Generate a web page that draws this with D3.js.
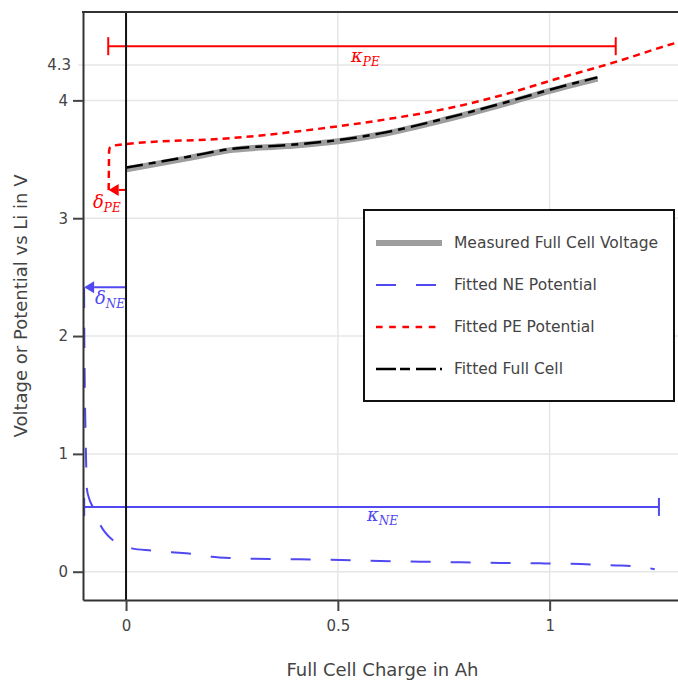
<!DOCTYPE html>
<html>
<head>
<meta charset="utf-8">
<script src="https://cdn.jsdelivr.net/npm/d3@7"></script>
<style>
  body { margin: 0; background: #fff; }
  svg { display: block; font-family: "DejaVu Sans", Verdana, sans-serif; }
</style>
</head>
<body>
<div id="chart"></div>
<script>
// ticks
const xTicks = [0, 0.5, 1];
const yTicks = [0, 1, 2, 3, 4];
const yMarkTick = 4.3;

// measured full cell voltage (Ah, V)
const measuredQ = [0, 0.144, 0.252, 0.38, 0.505, 0.6, 0.757, 0.913, 1.0, 1.113];
const measuredV = [3.415, 3.508, 3.58, 3.612, 3.655, 3.71, 3.84, 3.99, 4.08, 4.185];

// fitted full cell
const fittedQ = [0, 0.144, 0.252, 0.38, 0.505, 0.6, 0.757, 0.913, 1.0, 1.113];
const fittedV = [3.43, 3.52, 3.59, 3.62, 3.665, 3.72, 3.85, 4.0, 4.09, 4.195];

// fitted PE potential
const peQ = [-0.041, -0.0405, -0.040, -0.038, -0.033, 0, 0.25, 0.5, 0.65, 0.757, 0.913, 1.0, 1.15, 1.30, 1.32];
const peV = [3.24, 3.42, 3.57, 3.60, 3.612, 3.63, 3.68, 3.78, 3.86, 3.93, 4.07, 4.165, 4.32, 4.49, 4.51];

// fitted NE potential
const neQ = [-0.099, -0.0985, -0.0975, -0.096, -0.094, -0.0927, -0.087, -0.0785, -0.0597, -0.030, 0.0134, 0.059, 0.108, 0.153, 0.202, 0.245, 0.30, 0.41, 0.507, 0.60, 0.696, 0.79, 0.884, 0.979, 1.073, 1.167, 1.21, 1.248];
const neV = [2.41, 2.0, 1.6, 1.25, 0.9, 0.71, 0.62, 0.55, 0.39, 0.264, 0.198, 0.18, 0.165, 0.153, 0.127, 0.116, 0.11, 0.105, 0.10, 0.09, 0.085, 0.08, 0.074, 0.071, 0.065, 0.052, 0.045, 0.02];

// annotations: kappa spans and delta shifts
const kappaPE = { from: -0.042, to: 1.156, v: 4.46 };
const kappaNE = { from: -0.0988, to: 1.258, v: 0.55 };
const deltaPE = { from: 0, to: -0.041, v: 3.24 };
const deltaNE = { from: 0, to: -0.099, v: 2.414 };

const red = "#ff0000";
const blue = "#5048f0";

const width = 678, height = 680;
const marginLeft = 83, plotRight = 678, marginTop = 12, plotBottom = 600;

const x = d3.scaleLinear().domain([-0.1016, 1.303]).range([marginLeft, plotRight]);
const y = d3.scaleLinear().domain([-0.24, 4.75]).range([plotBottom, marginTop]);

const svg = d3.select("#chart").append("svg")
    .attr("width", width)
    .attr("height", height)
    .attr("viewBox", [0, 0, width, height]);

svg.append("defs").append("clipPath").attr("id", "clip")
    .append("rect")
    .attr("x", marginLeft).attr("y", marginTop)
    .attr("width", plotRight - marginLeft).attr("height", plotBottom - marginTop);

// grid
const grid = svg.append("g").attr("stroke", "#e6e6e6").attr("stroke-width", 1.5);
grid.selectAll(".h").data(yTicks).join("line").attr("class", "h")
    .attr("x1", marginLeft).attr("x2", plotRight)
    .attr("y1", d => y(d)).attr("y2", d => y(d));
grid.selectAll(".v").data(xTicks.filter(d => d !== 0)).join("line").attr("class", "v")
    .attr("x1", d => x(d)).attr("x2", d => x(d))
    .attr("y1", marginTop).attr("y2", plotBottom);
grid.append("line")
    .attr("x1", marginLeft - 5).attr("x2", plotRight)
    .attr("y1", y(yMarkTick)).attr("y2", y(yMarkTick));

const lineGen = d3.line()
    .x(d => x(d[0]))
    .y(d => y(d[1]))
    .curve(d3.curveMonotoneX);

const plot = svg.append("g").attr("clip-path", "url(#clip)").attr("fill", "none");

plot.append("path").datum(d3.zip(neQ, neV))
    .attr("d", lineGen).attr("stroke", blue).attr("stroke-width", 2)
    .attr("stroke-dasharray", "20,20");

plot.append("path").datum(d3.zip(peQ, peV))
    .attr("d", lineGen).attr("stroke", red).attr("stroke-width", 2.5)
    .attr("stroke-dasharray", "7,5");

plot.append("path").datum(d3.zip(measuredQ, measuredV))
    .attr("d", lineGen).attr("stroke", "#9e9e9e").attr("stroke-width", 6);

plot.append("path").datum(d3.zip(fittedQ, fittedV))
    .attr("d", lineGen).attr("stroke", "#000").attr("stroke-width", 2.5)
    .attr("stroke-dasharray", "17,6,7,6");

// annotations
const ann = svg.append("g");

function span(k, color) {
    const g = ann.append("g").attr("stroke", color).attr("stroke-width", 2);
    g.append("line").attr("x1", x(k.from)).attr("x2", x(k.to)).attr("y1", y(k.v)).attr("y2", y(k.v));
    [k.from, k.to].forEach(q => g.append("line")
        .attr("x1", x(q)).attr("x2", x(q))
        .attr("y1", y(k.v) - 9).attr("y2", y(k.v) + 9));
}

function arrow(d, color, head) {
    const x0 = x(d.from), x1 = x(d.to), yy = y(d.v);
    ann.append("line").attr("stroke", color).attr("stroke-width", 2)
        .attr("x1", x0).attr("x2", x1 + head).attr("y1", yy).attr("y2", yy);
    ann.append("path").attr("fill", color)
        .attr("d", `M${x1},${yy}L${x1 + head},${yy - 6}L${x1 + head},${yy + 6}Z`);
}

function mathLabel(px, py, sub, color) {
    const t = ann.append("text")
        .attr("x", px).attr("y", py)
        .attr("fill", color)
        .attr("font-family", "'DejaVu Serif', 'Liberation Serif', serif")
        .attr("font-style", "italic")
        .attr("font-size", 18);
    t.append("tspan").text(sub[0]);
    t.append("tspan").attr("font-size", 12).attr("dy", 4).text(sub[1]);
}

span(kappaPE, red);
span(kappaNE, blue);
arrow(deltaPE, red, 10);
arrow(deltaNE, blue, 10);

mathLabel(351, 62, ["κ", "PE"], red);
mathLabel(367, 521, ["κ", "NE"], blue);
mathLabel(93, 208, ["δ", "PE"], red);
mathLabel(95, 304, ["δ", "NE"], blue);

// zero charge line
svg.append("line")
    .attr("x1", x(0)).attr("x2", x(0))
    .attr("y1", marginTop).attr("y2", plotBottom)
    .attr("stroke", "#111").attr("stroke-width", 2);

// axes
const xAxis = svg.append("g")
    .attr("transform", `translate(0,${plotBottom})`)
    .call(d3.axisBottom(x).tickValues(xTicks).tickSize(11).tickSizeOuter(0).tickPadding(9).tickFormat(d => String(d)));

const yAxis = svg.append("g")
    .attr("transform", `translate(${marginLeft},0)`)
    .call(d3.axisLeft(y).tickValues(yTicks).tickSize(10).tickSizeOuter(0).tickPadding(5).tickFormat(d => String(d)));

[xAxis, yAxis].forEach(a => {
    a.select(".domain").attr("stroke", "#333").attr("stroke-width", 2);
    a.selectAll(".tick line").attr("stroke", "#444").attr("stroke-width", 2);
    a.selectAll(".tick text").attr("fill", "#444").attr("font-size", 15).attr("font-family", "'DejaVu Sans', Verdana, sans-serif");
});

svg.append("text")
    .attr("x", marginLeft - 12).attr("y", y(yMarkTick))
    .attr("dy", "0.35em")
    .attr("text-anchor", "end")
    .attr("fill", "#444").attr("font-size", 15)
    .text(String(yMarkTick));

// top border
svg.append("line")
    .attr("x1", marginLeft - 1).attr("x2", plotRight)
    .attr("y1", marginTop).attr("y2", marginTop)
    .attr("stroke", "#333").attr("stroke-width", 2);

// axis titles
svg.append("text")
    .attr("x", (marginLeft + plotRight) / 2 + 2).attr("y", 676)
    .attr("text-anchor", "middle")
    .attr("fill", "#444").attr("font-size", 18)
    .text("Full Cell Charge in Ah");

svg.append("text")
    .attr("transform", `translate(27,${(marginTop + plotBottom) / 2}) rotate(-90)`)
    .attr("text-anchor", "middle")
    .attr("fill", "#444").attr("font-size", 18)
    .text("Voltage or Potential vs Li in V");

// legend
const legendItems = [
    { name: "Measured Full Cell Voltage", color: "#9e9e9e", w: 6, dash: null },
    { name: "Fitted NE Potential", color: blue, w: 2, dash: "20,20" },
    { name: "Fitted PE Potential", color: red, w: 2.5, dash: "6.6,6.6" },
    { name: "Fitted Full Cell", color: "#000", w: 2.5, dash: "20,4,10,6" }
];

const legend = svg.append("g").attr("transform", "translate(364,210)");
legend.append("rect")
    .attr("width", 310).attr("height", 191)
    .attr("fill", "#fff").attr("stroke", "#111").attr("stroke-width", 2);

const row = legend.selectAll(".row").data(legendItems).join("g")
    .attr("transform", (d, i) => `translate(0,${33 + i * 42})`);
row.append("line")
    .attr("x1", 12).attr("x2", 78)
    .attr("stroke", d => d.color)
    .attr("stroke-width", d => d.w)
    .attr("stroke-dasharray", d => d.dash);
row.append("text")
    .attr("x", 90).attr("dy", "0.35em")
    .attr("fill", "#444").attr("font-size", 15.5)
    .text(d => d.name);
</script>
</body>
</html>
